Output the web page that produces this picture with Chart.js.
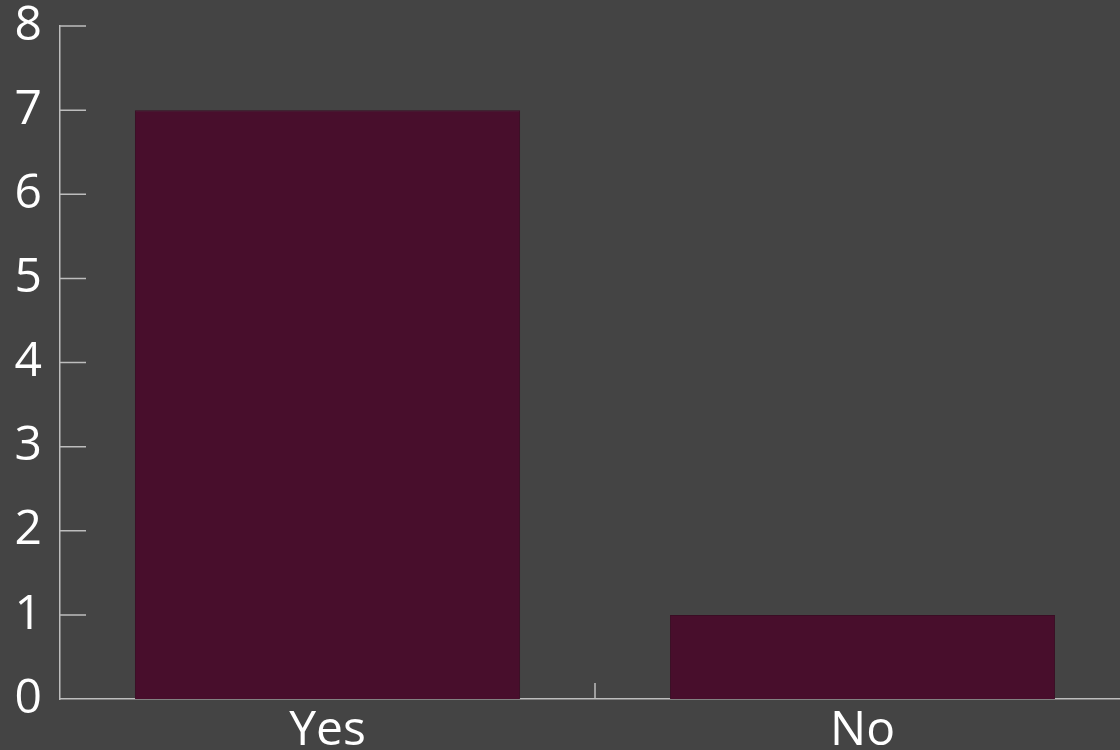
<!DOCTYPE html>
<html>
<head>
<meta charset="utf-8">
<script src="https://cdn.jsdelivr.net/npm/chart.js@4.4.1/dist/chart.umd.min.js"></script>
<style>
  html, body { margin: 0; padding: 0; background: #444444; overflow: hidden; }
  #wrap { position: absolute; left: 0; top: -8px; width: 1130px; height: 798px; }
</style>
</head>
<body>
<div id="wrap"><canvas id="chart"></canvas></div>
<script>
var categories = ["Yes", "No"];
var counts = [7, 1];
var yMax = 8;

var axisColor = "#bdbdbd";
var textColor = "#ffffff";

// ticks are drawn inward, so do them by hand
var inwardTicks = {
  id: "inwardTicks",
  afterDraw: function(chart) {
    var ctx = chart.ctx;
    var x = chart.scales.x, y = chart.scales.y;
    var area = chart.chartArea;
    ctx.save();
    ctx.strokeStyle = axisColor;
    ctx.lineWidth = 1.5;
    ctx.beginPath();
    for (var v = 1; v <= yMax; v++) {
      var py = y.getPixelForValue(v);
      ctx.moveTo(area.left, py);
      ctx.lineTo(area.left + 26, py);
    }
    for (var i = 0; i < categories.length - 1; i++) {
      var px = (x.getPixelForValue(i) + x.getPixelForValue(i + 1)) / 2;
      ctx.moveTo(px, area.bottom);
      ctx.lineTo(px, area.bottom - 16);
    }
    ctx.stroke();
    ctx.restore();
  }
};

var chart = new Chart(document.getElementById("chart"), {
  type: "bar",
  data: {
    labels: categories,
    datasets: [{
      data: counts,
      backgroundColor: "#480e2c",
      borderColor: "#3a0d24",
      borderWidth: 1,
      barPercentage: 0.72,
      categoryPercentage: 1
    }]
  },
  options: {
    responsive: true,
    maintainAspectRatio: false,
    animation: false,
    layout: { padding: { top: 25, left: 0, right: 0, bottom: 0 } },
    plugins: { legend: { display: false }, tooltip: { enabled: false } },
    scales: {
      x: {
        offset: true,
        grid: { display: false },
        border: { display: true, color: axisColor, width: 1.5 },
        ticks: {
          color: textColor,
          padding: 0,
          font: { family: "Open Sans", size: 48, lineHeight: 1 }
        },
        afterFit: function(s) { s.height = 91; }
      },
      y: {
        min: 0,
        max: yMax,
        grid: { display: false },
        border: { display: true, color: axisColor, width: 1.5 },
        ticks: {
          stepSize: 1,
          color: textColor,
          padding: 10,
          font: { family: "Open Sans", size: 48, lineHeight: 1 }
        },
        afterFit: function(s) { s.width = 60; }
      }
    }
  },
  plugins: [inwardTicks]
});
</script>
</body>
</html>
